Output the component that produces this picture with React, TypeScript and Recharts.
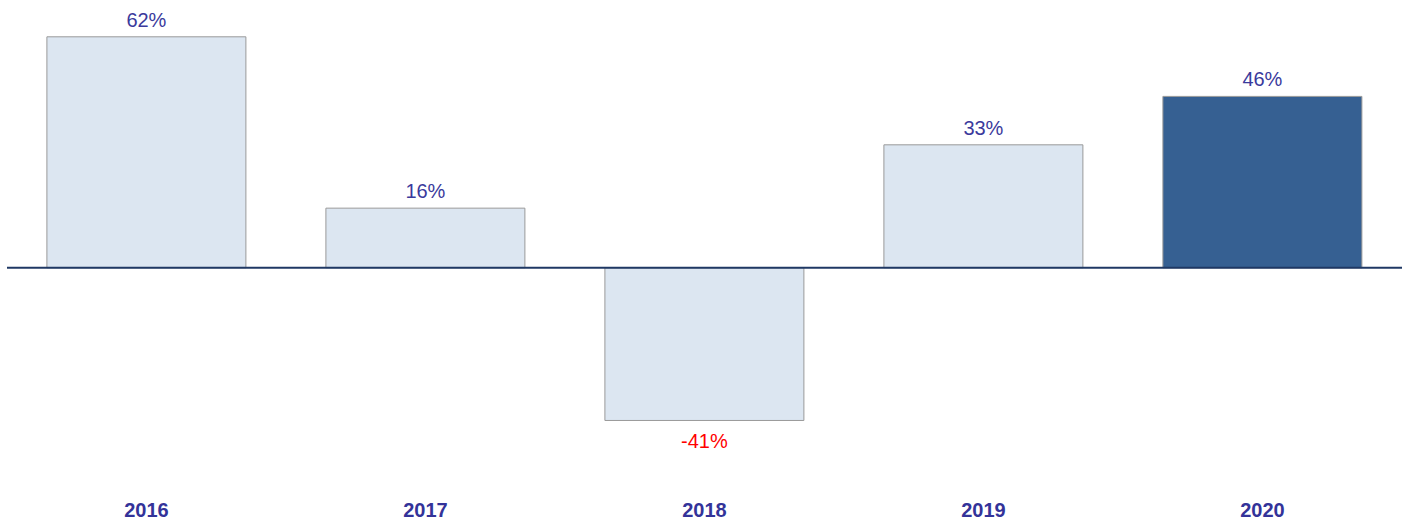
import React from "react";
import { BarChart, Bar, XAxis, YAxis, ReferenceLine, Cell, LabelList } from "recharts";

const years = ["2016", "2017", "2018", "2019", "2020"];
const growth = [62, 16, -41, 33, 46];
const highlightYear = "2020";

const data = years.map((y, i) => ({ year: y, value: growth[i] }));

const FONT = "'Liberation Sans', Arial, sans-serif";

const ValueLabel = (props: any) => {
  const { x, y, width, height, value } = props;
  const top = Math.min(y, y + height);
  const bottom = Math.max(y, y + height);
  const cx = x + width / 2;
  if (value < 0) {
    return (
      <text x={cx} y={bottom + 28} textAnchor="middle" fill="#ff0000" fontSize={20} fontFamily={FONT}>
        {`${value}%`}
      </text>
    );
  }
  return (
    <text x={cx} y={top - 10} textAnchor="middle" fill="#3a3a9c" fontSize={20} fontFamily={FONT}>
      {`${value}%`}
    </text>
  );
};

export default function App() {
  return (
    <div style={{ position: "absolute", left: 0, top: 0 }}>
      <BarChart
        width={1407}
        height={523}
        data={data}
        margin={{ top: 7, right: 5, bottom: 0, left: 7 }}
        barCategoryGap="14.3%"
      >
        <XAxis
          dataKey="year"
          axisLine={false}
          tickLine={false}
          tickSize={0}
          tickMargin={49}
          height={69}
          interval={0}
          tick={{ fill: "#333399", fontSize: 20, fontWeight: "bold", fontFamily: FONT }}
        />
        <YAxis hide domain={[-50, 70]} />
        <Bar dataKey="value" isAnimationActive={false} stroke="#9a9a9a" strokeWidth={1}>
          {data.map((d) => (
            <Cell key={d.year} fill={d.year === highlightYear ? "#366092" : "#dce6f1"} />
          ))}
          <LabelList dataKey="value" content={<ValueLabel />} />
        </Bar>
        <ReferenceLine y={0} stroke="#1f3864" strokeWidth={2} ifOverflow="extendDomain" />
      </BarChart>
    </div>
  );
}
